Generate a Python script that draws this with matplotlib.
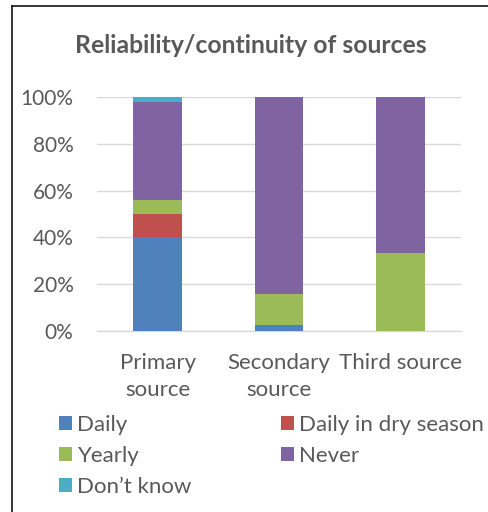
import numpy as np
import matplotlib
matplotlib.use("Agg")
import matplotlib.pyplot as plt
from matplotlib.lines import Line2D
from matplotlib.patches import Patch
from matplotlib.ticker import PercentFormatter

# data (share of responses, %)
categories = ["Primary\nsource", "Secondary\nsource", "Third source"]
series_names = ["Daily", "Daily in dry season", "Yearly", "Never", "Don’t know"]
daily = [40.0, 2.4, 0.0]
daily_dry = [10.0, 0.0, 0.0]
yearly = [6.0, 13.3, 33.3]
never = [42.0, 84.3, 66.7]
dont_know = [2.0, 0.0, 0.0]
colors = ["#4F81BD", "#C0504D", "#9BBB59", "#8064A2", "#4BACC6"]

text_color = "#595959"
grid_color = "#D9D9D9"

plt.rcParams["font.family"] = ["Lato", "DejaVu Sans"]


def main():
    fig = plt.figure(figsize=(4.88, 5.12), dpi=100)
    ax = fig.add_axes([0.1988, 0.3535, 0.7459, 0.457])

    x = np.arange(len(categories))
    bottom = np.zeros(len(categories))
    for vals, name, c in zip([daily, daily_dry, yearly, never, dont_know], series_names, colors):
        ax.bar(x, vals, width=0.40, bottom=bottom, color=c, label=name, zorder=3)
        bottom += np.array(vals)

    ax.set_xlim(-0.5, 2.5)
    ax.set_ylim(0, 100)
    ax.set_yticks(np.arange(0, 101, 20))
    ax.yaxis.set_major_formatter(PercentFormatter(decimals=0))
    ax.set_xticks(x)
    ax.set_xticklabels(categories, linespacing=1.4, fontsize=16)

    ax.grid(axis="y", color=grid_color, linewidth=1.0, zorder=0)
    for s in ["left", "right", "top"]:
        ax.spines[s].set_visible(False)
    ax.spines["bottom"].set_color(grid_color)
    ax.spines["bottom"].set_linewidth(1.0)
    ax.tick_params(axis="both", length=0, labelcolor=text_color)
    ax.tick_params(axis="y", pad=17, labelsize=15)
    ax.tick_params(axis="x", pad=16)

    fig.text(0.514, 0.912, "Reliability/continuity of sources", ha="center", va="center",
             fontsize=17.8, fontweight="bold", color=text_color)

    # legend in Excel row order: two columns, filled column by column
    order = [0, 2, 4, 1, 3]
    handles = [Patch(facecolor=colors[i]) for i in order]
    labels = [series_names[i] for i in order]
    fig.legend(handles, labels, ncol=2, loc="upper left", bbox_to_anchor=(0.121, 0.19),
               frameon=False, fontsize=16, labelcolor=text_color,
               handlelength=0.58, handleheight=0.58, handletextpad=0.25,
               columnspacing=4.0, labelspacing=0.5, borderpad=0, borderaxespad=0)

    # chart border (left and top edges)
    fig.add_artist(Line2D([12 / 488, 12 / 488], [0, 1 - 6 / 512], color="black", linewidth=1.1))
    fig.add_artist(Line2D([12 / 488, 1], [1 - 6 / 512, 1 - 6 / 512], color="black", linewidth=1.1))

    fig.savefig("out.png", dpi=100)


if __name__ == "__main__":
    main()
